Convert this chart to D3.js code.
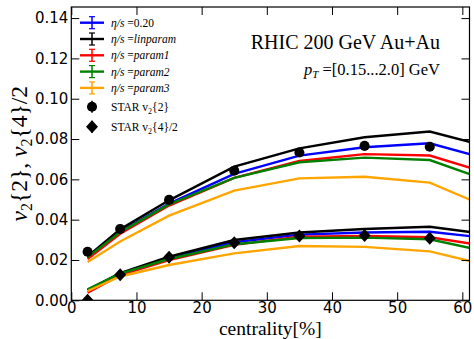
<!DOCTYPE html>
<html>
<head>
<meta charset="utf-8">
<script src="https://cdn.jsdelivr.net/npm/d3@7"></script>
<style>
  body { margin: 0; background: #fff; }
  .tick text { font-family: "DejaVu Sans", sans-serif; font-size: 15px; }
  .serif { font-family: "Liberation Serif", "DejaVu Serif", serif; }
</style>
</head>
<body>
<svg id="plate" width="474" height="339"></svg>
<script>
// centrality bins (%)
var cent = [2.5, 7.5, 15, 25, 35, 45, 55, 65];

// hydro v2{2}
var v22 = {
    eta020:    [0.0210, 0.0340, 0.0480, 0.0627, 0.0718, 0.0759, 0.0779, 0.0691],
    linparam:  [0.0218, 0.0352, 0.0496, 0.0663, 0.0754, 0.0809, 0.0837, 0.0754],
    param1:    [0.0205, 0.0330, 0.0470, 0.0607, 0.0691, 0.0725, 0.0718, 0.0621],
    param2:    [0.0214, 0.0338, 0.0476, 0.0607, 0.0685, 0.0708, 0.0696, 0.0581],
    param3:    [0.0190, 0.0292, 0.0420, 0.0544, 0.0605, 0.0613, 0.0584, 0.0446]
};
// hydro v2{4}/2
var v24 = {
    eta020:    [0.0050, 0.0130, 0.0210, 0.0288, 0.0326, 0.0336, 0.0340, 0.0305],
    linparam:  [0.0052, 0.0135, 0.0216, 0.0299, 0.0336, 0.0354, 0.0365, 0.0323],
    param1:    [0.0038, 0.0125, 0.0200, 0.0275, 0.0316, 0.0319, 0.0313, 0.0263],
    param2:    [0.0055, 0.0132, 0.0205, 0.0278, 0.0309, 0.0311, 0.0303, 0.0233],
    param3:    [0.0046, 0.0118, 0.0175, 0.0233, 0.0269, 0.0265, 0.0243, 0.0166]
};

// STAR data
var starCent = [2.5, 7.5, 15, 25, 35, 45, 55];
var star22 = [0.0241, 0.0354, 0.0498, 0.0643, 0.0733, 0.0766, 0.0762];
var star22err = [0.0008, 0.0008, 0.0008, 0.0008, 0.0009, 0.0010, 0.0012];
var star24 = [0.0000, 0.0127, 0.0213, 0.0286, 0.0319, 0.0322, 0.0308];
var star24err = [0.0008, 0.0008, 0.0008, 0.0009, 0.0010, 0.0012, 0.0014];

var models = ['eta020', 'linparam', 'param1', 'param2', 'param3'];
var modelLabels = ['0.20', 'linparam', 'param1', 'param2', 'param3'];
var colors = ['#0000ff', '#000000', '#ff0000', '#008000', '#ffa500'];

var xTicks = [0, 10, 20, 30, 40, 50, 60];
var yTicks = [0, 0.02, 0.04, 0.06, 0.08, 0.10, 0.12, 0.14];

var margin = {top: 7, right: 4.5, bottom: 38.7, left: 71.3};
var width = 474 - margin.left - margin.right;
var height = 339 - margin.top - margin.bottom;

var x = d3.scaleLinear().domain([0, 61.1]).range([0, width]);
var y = d3.scaleLinear().domain([0, 0.1455]).range([height, 0]);

var svg = d3.select('#plate')
    .append('g')
    .attr('transform', 'translate(' + margin.left + ',' + margin.top + ')');

svg.append('defs').append('clipPath').attr('id', 'clip')
    .append('rect').attr('width', width).attr('height', height);

var plot = svg.append('g').attr('clip-path', 'url(#clip)');

var line = d3.line()
    .x(function(d) { return x(d[0]); })
    .y(function(d) { return y(d[1]); });

// model curves
[v22, v24].forEach(function(set) {
    models.forEach(function(m, i) {
        plot.append('path')
            .datum(d3.zip(cent, set[m]))
            .attr('fill', 'none')
            .attr('stroke', colors[i])
            .attr('stroke-width', 2.4)
            .attr('stroke-linejoin', 'miter')
            .attr('d', line);
    });
});

// STAR error bars and markers
function drawStar(vals, errs, shape) {
    var pts = d3.zip(starCent, vals, errs);
    plot.selectAll(null).data(pts).enter().append('line')
        .attr('x1', function(d) { return x(d[0]); })
        .attr('x2', function(d) { return x(d[0]); })
        .attr('y1', function(d) { return y(d[1] - d[2]); })
        .attr('y2', function(d) { return y(d[1] + d[2]); })
        .attr('stroke', '#000').attr('stroke-width', 1.5);
    plot.selectAll(null).data(pts).enter().append('path')
        .attr('transform', function(d) { return 'translate(' + x(d[0]) + ',' + y(d[1]) + ')'; })
        .attr('d', shape)
        .attr('fill', '#000');
}
drawStar(star22, star22err, d3.symbol().type(d3.symbolCircle).size(80)());
drawStar(star24, star24err, 'M0,-6.5L6,0L0,6.5L-6,0Z');

// axes (ticks pointing inward, on all four sides)
svg.append('g')
    .attr('transform', 'translate(0,' + height + ')')
    .call(d3.axisBottom(x).tickValues(xTicks).tickSize(-8).tickPadding(2).tickFormat(d3.format('d')));
svg.append('g')
    .call(d3.axisTop(x).tickValues(xTicks).tickSize(-8).tickFormat(''));
svg.append('g')
    .call(d3.axisLeft(y).tickValues(yTicks).tickSize(-8).tickPadding(3).tickFormat(d3.format('.2f')));
svg.append('g')
    .attr('transform', 'translate(' + width + ',0)')
    .call(d3.axisRight(y).tickValues(yTicks).tickSize(-8).tickFormat(''));
svg.selectAll('.domain').remove();
svg.selectAll('.tick line').attr('stroke', '#000').attr('stroke-width', 1);
svg.selectAll('.tick text').attr('fill', '#000');

svg.append('rect')
    .attr('width', width).attr('height', height)
    .attr('fill', 'none').attr('stroke', '#000').attr('stroke-width', 1.2);

// legend
var leg = svg.append('g').attr('transform', 'translate(' + (80 - margin.left) + ',' + (22.7 - margin.top) + ')');
var rowGap = 16.3;
models.forEach(function(m, i) {
    var g = leg.append('g').attr('transform', 'translate(0,' + (i * rowGap) + ')');
    g.append('line').attr('x1', 0).attr('x2', 24).attr('stroke', colors[i]).attr('stroke-width', 2.4);
    g.append('line').attr('x1', 12).attr('x2', 12).attr('y1', -6).attr('y2', 6).attr('stroke', colors[i]).attr('stroke-width', 1.5);
    g.append('line').attr('x1', 9).attr('x2', 15).attr('y1', -6).attr('y2', -6).attr('stroke', colors[i]).attr('stroke-width', 1.2);
    g.append('line').attr('x1', 9).attr('x2', 15).attr('y1', 6).attr('y2', 6).attr('stroke', colors[i]).attr('stroke-width', 1.2);
    var t = g.append('text').attr('class', 'serif').attr('x', 31).attr('y', 4).attr('font-size', 11.5);
    t.append('tspan').attr('font-style', 'italic').text('η/s');
    t.append('tspan').text(' =');
    t.append('tspan').attr('font-style', i === 0 ? 'normal' : 'italic').text(modelLabels[i]);
});
var starRows = [
    {y: 106.7, shape: d3.symbol().type(d3.symbolCircle).size(80)(), sub: '{2}'},
    {y: 126.7, shape: 'M0,-6.5L6,0L0,6.5L-6,0Z', sub: '{4}/2'}
];
starRows.forEach(function(r) {
    var g = leg.append('g').attr('transform', 'translate(0,' + (r.y - 22.7) + ')');
    g.append('line').attr('x1', 12).attr('x2', 12).attr('y1', -6).attr('y2', 6).attr('stroke', '#000').attr('stroke-width', 1.5);
    g.append('path').attr('transform', 'translate(12,0)').attr('d', r.shape).attr('fill', '#000');
    var t = g.append('text').attr('class', 'serif').attr('x', 31).attr('y', 4).attr('font-size', 11.5);
    t.append('tspan').text('STAR v');
    t.append('tspan').attr('font-size', 8).attr('dy', 3).text('2');
    t.append('tspan').attr('dy', -3).text(r.sub);
});

// annotations
svg.append('text').attr('class', 'serif')
    .attr('x', 440 - margin.left).attr('y', 49 - margin.top)
    .attr('text-anchor', 'end').attr('font-size', 20)
    .text('RHIC 200 GeV Au+Au');
var pt = svg.append('text').attr('class', 'serif')
    .attr('x', 440 - margin.left).attr('y', 75 - margin.top)
    .attr('text-anchor', 'end').attr('font-size', 16.5);
pt.append('tspan').attr('font-style', 'italic').text('p');
pt.append('tspan').attr('font-style', 'italic').attr('font-size', 11).attr('dy', 3).text('T');
pt.append('tspan').attr('dy', -3).text(' =[0.15...2.0] GeV');

// axis labels
svg.append('text').attr('class', 'serif')
    .attr('x', width / 2).attr('y', 334.5 - margin.top)
    .attr('text-anchor', 'middle').attr('font-size', 19.5)
    .text('centrality[%]');
var yl = svg.append('text').attr('class', 'serif')
    .attr('transform', 'translate(' + (27 - margin.left) + ',' + (height / 2) + ') rotate(-90)')
    .attr('text-anchor', 'middle').attr('font-size', 23.5);
yl.append('tspan').attr('font-style', 'italic').text('v');
yl.append('tspan').attr('font-size', 16).attr('dy', 5).text('2');
yl.append('tspan').attr('dy', -5).text('{2}, ');
yl.append('tspan').attr('font-style', 'italic').text('v');
yl.append('tspan').attr('font-size', 16).attr('dy', 5).text('2');
yl.append('tspan').attr('dy', -5).text('{4}/2');
</script>
</body>
</html>
